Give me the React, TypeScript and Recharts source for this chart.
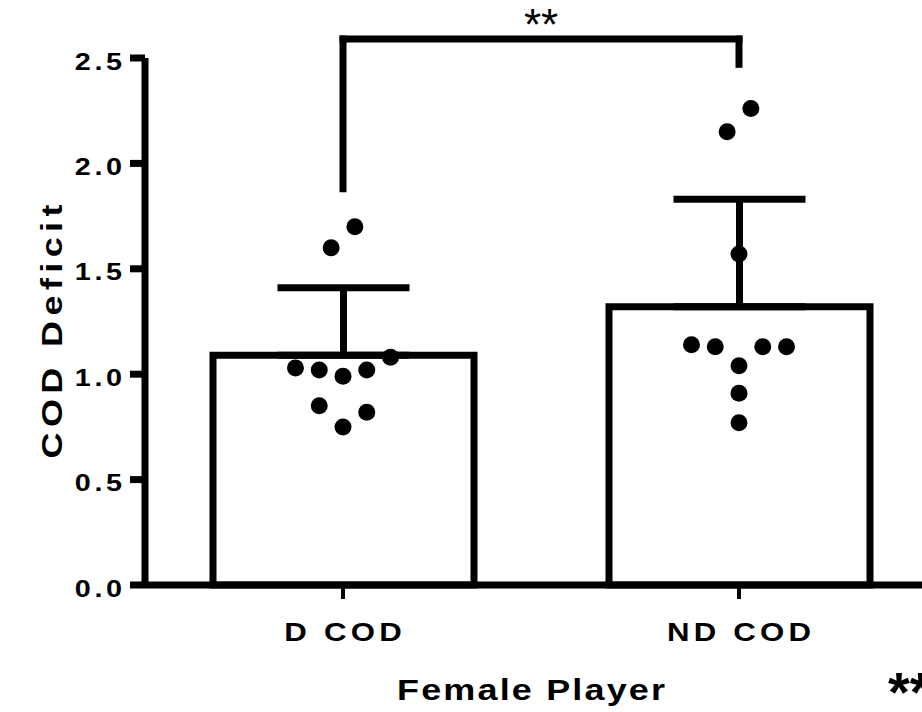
import React from "react";
import { ComposedChart, Bar, ErrorBar, Scatter, XAxis, YAxis, ReferenceLine } from "recharts";

const FONT = "'Liberation Sans', Arial, Helvetica, sans-serif";
// the original lettering is a wide bold sans, so the text is stretched a bit horizontally
const STRETCH = 1.2;

// bar means and upper SD
const CATEGORIES = ["D COD", "ND COD"];
const MEANS = [1.09, 1.32];
const SD_UP = [0.32, 0.51];
const Y_TICKS = [0, 0.5, 1.0, 1.5, 2.0, 2.5];

// individual players (x = position on the 0..2 group axis, groups centred at 0.5 / 1.5)
const D_COD_X = [0.53, 0.47, 0.38, 0.44, 0.5, 0.56, 0.62, 0.44, 0.56, 0.5];
const D_COD_Y = [1.7, 1.6, 1.03, 1.02, 0.99, 1.02, 1.08, 0.85, 0.82, 0.75];
const ND_COD_X = [1.53, 1.47, 1.5, 1.38, 1.44, 1.56, 1.62, 1.5, 1.5, 1.5];
const ND_COD_Y = [2.26, 2.15, 1.57, 1.14, 1.13, 1.13, 1.13, 1.04, 0.91, 0.77];

// significance bracket between the two groups
const BRACKET_X = [0.5, 1.5];
const BRACKET_TOP = 2.59;
const BRACKET_FEET = [1.88, 2.47];
const SIG_LABEL = "**";

const barData = CATEGORIES.map((name, i) => ({ name, mean: MEANS[i], err: [0, SD_UP[i]] }));
const points = [
  ...D_COD_X.map((x, i) => ({ x, y: D_COD_Y[i] })),
  ...ND_COD_X.map((x, i) => ({ x, y: ND_COD_Y[i] })),
];

const black = "#000";
const lineStyle = { stroke: black, strokeWidth: 7 };

function WideText({
  x,
  y,
  rotate = 0,
  size,
  spacing,
  anchor = "middle",
  dy,
  bold = true,
  children,
}: {
  x: number;
  y: number;
  rotate?: number;
  size: number;
  spacing: number;
  anchor?: "start" | "middle" | "end";
  dy?: string | number;
  bold?: boolean;
  children: React.ReactNode;
}) {
  // trailing letter-spacing shifts the anchored text, compensate for it
  const dx = anchor === "middle" ? spacing / 2 : anchor === "end" ? spacing : 0;
  return (
    <g transform={`translate(${x} ${y}) rotate(${rotate}) scale(${STRETCH} 1)`}>
      <text
        x={dx}
        y={0}
        dy={dy}
        textAnchor={anchor}
        fill={black}
        style={{ fontFamily: FONT, fontSize: size, fontWeight: bold ? 700 : 400, letterSpacing: spacing }}
      >
        {children}
      </text>
    </g>
  );
}

const XTick = ({ x, y, payload }: any) => (
  <WideText x={x} y={y} size={26} spacing={3.5} dy="0.71em">
    {payload.value}
  </WideText>
);

const YTick = ({ x, y, payload }: any) => (
  <WideText x={x} y={y + 3} size={24} spacing={3} anchor="end" dy="0.355em">
    {Number(payload.value).toFixed(1)}
  </WideText>
);

const Dot = (p: any) => <circle cx={p.cx} cy={p.cy} r={8.5} fill={black} />;

const YTitle = ({ viewBox }: any) => (
  <WideText x={viewBox.x + 62} y={viewBox.y + viewBox.height / 2 + 10} rotate={-90} size={30} spacing={4.5}>
    COD Deficit
  </WideText>
);

const XTitle = ({ viewBox }: any) => (
  <g>
    <WideText x={viewBox.x + viewBox.width / 2 - 10} y={viewBox.y + 115} size={30} spacing={1.8}>
      Female Player
    </WideText>
    <text x={888} y={viewBox.y + 126} fill={black} style={{ fontFamily: FONT, fontSize: 56, fontWeight: 700 }}>
      {SIG_LABEL}
    </text>
  </g>
);

const SigLabel = ({ viewBox }: any) => (
  <text
    x={viewBox.x + viewBox.width / 2}
    y={viewBox.y + 1}
    textAnchor="middle"
    fill={black}
    style={{ fontFamily: FONT, fontSize: 44 }}
  >
    {SIG_LABEL}
  </text>
);

export default function App() {
  return (
    <div
      style={{
        position: "absolute",
        left: 0,
        top: 0,
        width: 922,
        height: 712,
        overflow: "hidden",
        background: "#fff",
      }}
    >
      <ComposedChart width={960} height={712} data={barData} margin={{ top: 58, right: 23, bottom: 17, left: 0 }}>
        <XAxis
          xAxisId="cat"
          dataKey="name"
          type="category"
          height={110}
          axisLine={lineStyle}
          tickLine={{ stroke: black, strokeWidth: 4 }}
          tickSize={14}
          tickMargin={24}
          tick={XTick}
          label={XTitle}
        />
        <XAxis xAxisId="num" dataKey="x" type="number" domain={[0, 2]} hide />
        <YAxis
          width={145}
          domain={[0, 2.5]}
          ticks={Y_TICKS}
          axisLine={lineStyle}
          tickLine={lineStyle}
          tickSize={15}
          tickMargin={8}
          tick={YTick}
          label={YTitle}
        />
        <Bar
          xAxisId="cat"
          dataKey="mean"
          barSize={261}
          fill="#fff"
          stroke={black}
          strokeWidth={7}
          isAnimationActive={false}
        >
          <ErrorBar dataKey="err" direction="y" width={66} stroke={black} strokeWidth={7} isAnimationActive={false} />
        </Bar>
        <Scatter xAxisId="num" data={points} dataKey="y" shape={Dot} isAnimationActive={false} />
        <ReferenceLine
          xAxisId="num"
          ifOverflow="visible"
          segment={[
            { x: BRACKET_X[0], y: BRACKET_FEET[0] },
            { x: BRACKET_X[0], y: BRACKET_TOP },
          ]}
          stroke={black}
          strokeWidth={7}
          strokeLinecap="square"
        />
        <ReferenceLine
          xAxisId="num"
          ifOverflow="visible"
          segment={[
            { x: BRACKET_X[0], y: BRACKET_TOP },
            { x: BRACKET_X[1], y: BRACKET_TOP },
          ]}
          stroke={black}
          strokeWidth={7}
          strokeLinecap="square"
          label={SigLabel}
        />
        <ReferenceLine
          xAxisId="num"
          ifOverflow="visible"
          segment={[
            { x: BRACKET_X[1], y: BRACKET_TOP },
            { x: BRACKET_X[1], y: BRACKET_FEET[1] },
          ]}
          stroke={black}
          strokeWidth={7}
          strokeLinecap="square"
        />
      </ComposedChart>
    </div>
  );
}
